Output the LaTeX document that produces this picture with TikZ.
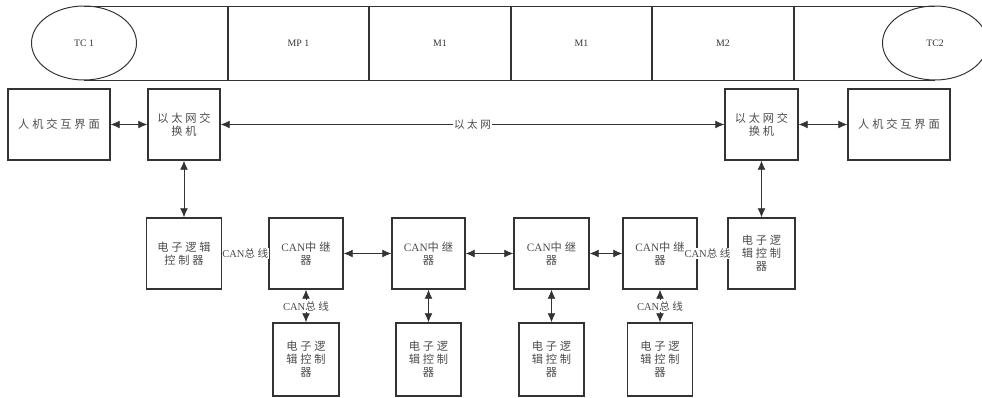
\documentclass[tikz,border=0pt]{standalone}
\usepackage{fontspec}
\setmainfont{Liberation Serif}
\newfontfamily\cjk[LetterSpace=25]{Noto Sans CJK SC}
\usetikzlibrary{arrows.meta,shapes.geometric}

\tikzset{
  box/.style={draw=black!80, line width=0.8pt, minimum height=71*0.025cm, inner sep=1pt,
    align=center, text=black!70, font=\cjk\fontsize{8}{9.3}\selectfont},
  car/.style={ellipse, draw=black!80, line width=0.7pt, inner sep=0pt,
    minimum width=105*0.025cm, minimum height=74*0.025cm},
  carlabel/.style={text=black!80, font=\fontsize{7}{8}\selectfont},
  link/.style={draw=black!80, line width=0.6pt},
  biarrow/.style={link, {Latex[length=6.5pt,width=5.5pt]}-{Latex[length=6.5pt,width=5.5pt]}},
  lab/.style={fill=white, inner sep=0.5pt, text=black!70, font=\cjk\fontsize{7.5}{9}\selectfont}
}

\begin{document}
\begin{tikzpicture}[x=0.025cm, y=-0.025cm]
    % --- 定义参数 ---
    \def\px{0.025cm}     % 一个像素的长度
    \def\bandTop{6}      % 车辆编组上沿
    \def\bandBot{80}     % 车辆编组下沿
    \def\rowA{124.5}     % 以太网交换机所在行
    \def\rowB{253.5}     % CAN 中继器所在行
    \def\rowC{359.5}     % 下层控制器所在行

    \useasboundingbox (0,0) rectangle (982,398);

    % --- 车辆编组 (TC1 - MP1 - M1 - M1 - M2 - TC2) ---
    \draw[link, line width=0.7pt] (84,\bandTop) -- (935,\bandTop);
    \draw[link, line width=0.7pt] (84,\bandBot) -- (935,\bandBot);
    \foreach \xx in {228,369,511,652,794}
        \draw[link, line width=0.8pt] (\xx,\bandTop) -- (\xx,\bandBot);
    \node[car] (tcA) at (84,43) {};
    \node[car] (tcB) at (935,43) {};
    \node[carlabel] at (tcA) {TC 1};
    \node[carlabel] at (298.5,43) {MP 1};
    \node[carlabel] at (440,43) {M1};
    \node[carlabel] at (581.5,43) {M1};
    \node[carlabel] at (723,43) {M2};
    \node[carlabel] at (tcB) {TC2};

    % --- 以太网层 ---
    \node[box, minimum width=102*\px] (hmiL) at (59,\rowA) {人机交互界面};
    \node[box, minimum width=72*\px] (swL) at (184,\rowA) {以太网交\\换机};
    \node[box, minimum width=73*\px] (swR) at (761.5,\rowA) {以太网交\\换机};
    \node[box, minimum width=102*\px] (hmiR) at (899,\rowA) {人机交互界面};

    % --- CAN 中继层 ---
    \node[box, minimum width=75*\px] (ecuL) at (184,\rowB) {电子逻辑\\控制器};
    \node[box, minimum width=74*\px] (rep1) at (306,\rowB) {{\rmfamily CAN}中继\\器};
    \node[box, minimum width=73*\px] (rep2) at (428.5,\rowB) {{\rmfamily CAN}中继\\器};
    \node[box, minimum width=75*\px] (rep3) at (551.5,\rowB) {{\rmfamily CAN}中继\\器};
    \node[box, minimum width=74*\px] (rep4) at (660,\rowB) {{\rmfamily CAN}中继\\器};
    \node[box, minimum width=67*\px] (ecuR) at (761.5,\rowB) {电子逻\\辑控制\\器};

    % --- 下层电子逻辑控制器 ---
    \node[box, minimum width=66*\px, minimum height=73*\px] (ecu1) at (306,\rowC) {电子逻\\辑控制\\器};
    \node[box, minimum width=65*\px, minimum height=73*\px] (ecu2) at (428.5,\rowC) {电子逻\\辑控制\\器};
    \node[box, minimum width=65*\px, minimum height=73*\px] (ecu3) at (551.5,\rowC) {电子逻\\辑控制\\器};
    \node[box, minimum width=65*\px, minimum height=73*\px] (ecu4) at (660,\rowC) {电子逻\\辑控制\\器};

    % --- 连线 ---
    \draw[biarrow] (hmiL) -- (swL);
    \draw[biarrow] (swR) -- (hmiR);
    \draw[biarrow] (swL) -- node[lab] {以太网} (swR);
    \draw[biarrow] (swL) -- (ecuL);
    \draw[biarrow] (swR) -- (ecuR);

    % CAN 总线 (横向)
    \draw[link] (ecuL) -- node[lab] {{\rmfamily CAN}总线} (rep1);
    \draw[biarrow] (rep1) -- (rep2);
    \draw[biarrow] (rep2) -- (rep3);
    \draw[biarrow] (rep3) -- (rep4);
    \draw[link] (rep4) -- node[lab, xshift=-5*\px] {{\rmfamily CAN}总线} (ecuR);

    % CAN 总线 (纵向)
    \draw[biarrow] (rep1) -- node[lab] {{\rmfamily CAN}总线} (ecu1);
    \draw[biarrow] (rep2) -- (ecu2);
    \draw[biarrow] (rep3) -- (ecu3);
    \draw[biarrow] (rep4) -- node[lab] {{\rmfamily CAN}总线} (ecu4);

\end{tikzpicture}
\end{document}
